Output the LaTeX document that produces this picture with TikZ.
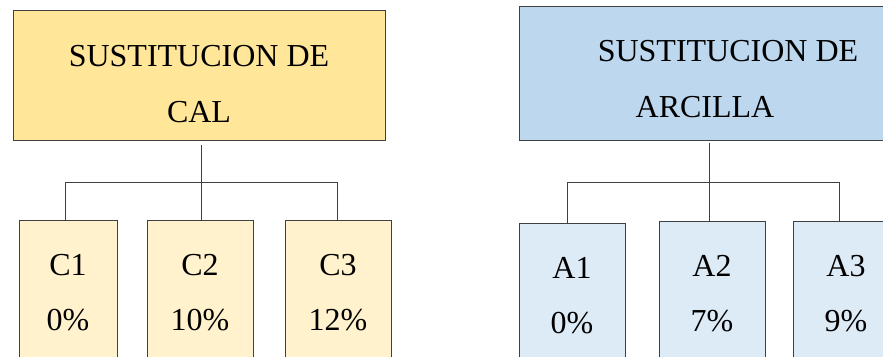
\documentclass[tikz,border=0pt]{standalone}
\usepackage{fontspec}
\setmainfont{Liberation Serif}
\newfontfamily\boxfont{Liberation Serif}
\usetikzlibrary{positioning}
\definecolor{calbig}{HTML}{FFE699}
\definecolor{calsmall}{HTML}{FFF2CC}
\definecolor{arcbig}{HTML}{BDD7EE}
\definecolor{arcsmall}{HTML}{DDEBF7}
\definecolor{edgegray}{HTML}{404040}
\tikzset{groupbox/.style={rectangle,draw=edgegray,line width=1pt,align=center,
inner sep=2pt,minimum width=372pt,minimum height=130pt,text depth=0pt,
font=\boxfont\fontsize{32}{56}\selectfont}}
\tikzset{mixbox/.style={rectangle,draw=edgegray,line width=1pt,align=center,
inner sep=2pt,minimum width=106pt,minimum height=150pt,text height=70pt,text depth=0pt,
font=\boxfont\fontsize{32}{55}\selectfont}}
\tikzset{branch/.style={line width=1pt,draw=edgegray}}

\begin{document}
\begin{tikzpicture}[x=1pt,y=-1pt]
    \useasboundingbox (0,0) rectangle (883,356);
    \clip (0,0) rectangle (883,356);

    % cal
    \node[groupbox,fill=calbig,text height=94pt] (cal) at (199,75) {SUSTITUCION DE\\CAL};
    \node[mixbox,fill=calsmall,minimum width=98pt] (c1) at (68,295) {C1\\0\%};
    \node[mixbox,fill=calsmall] (c2) at (200,295) {C2\\10\%};
    \node[mixbox,fill=calsmall] (c3) at (338,295) {C3\\12\%};

    \coordinate (calbar) at (0,182);
    \draw[branch] ([xshift=2pt,yshift=-4pt]cal.south) -- ([xshift=2pt]cal.south |- c2.north);
    \draw[branch] ([xshift=-3pt]c1.north) -- ([xshift=-3pt]c1.north |- calbar)
        -- ([xshift=-1pt]c3.north |- calbar) -- ([xshift=-1pt]c3.north);

    % arcilla
    \node[groupbox,fill=arcbig,minimum height=134pt,text height=88pt] (arc) at (705,73) {\hspace*{46pt}SUSTITUCION DE\\ARCILLA};
    \node[mixbox,fill=arcsmall] (a1) at (572,298) {A1\\0\%};
    \node[mixbox,fill=arcsmall] (a2) at (712,296) {A2\\7\%};
    \node[mixbox,fill=arcsmall] (a3) at (846,296) {A3\\9\%};

    \coordinate (arcbar) at (0,182);
    \draw[branch] ([xshift=4pt,yshift=-2pt]arc.south) -- ([xshift=4pt]arc.south |- a2.north);
    \draw[branch] ([xshift=-5pt]a1.north) -- ([xshift=-5pt]a1.north |- arcbar)
        -- ([xshift=-7pt]a3.north |- arcbar) -- ([xshift=-7pt]a3.north);
\end{tikzpicture}
\end{document}
